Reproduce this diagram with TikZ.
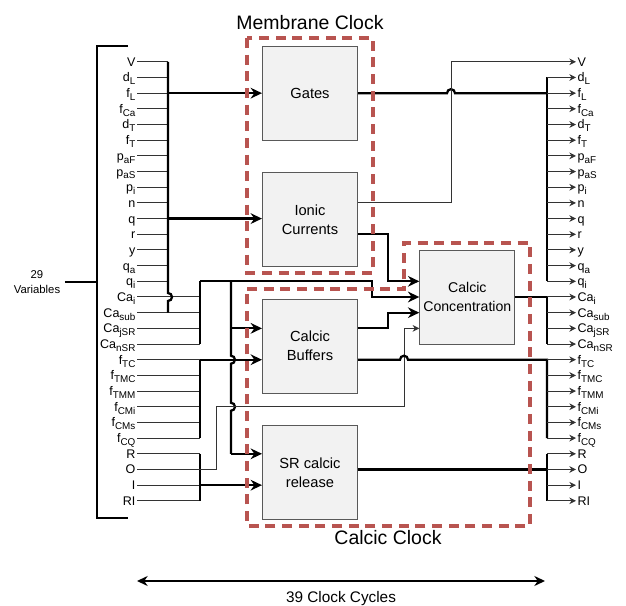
\documentclass[tikz,border=0pt]{standalone}
\usepackage{fontspec}
\setmainfont{Liberation Sans}
\usepackage{tikz}
\usetikzlibrary{positioning,calc,arrows.meta}
\definecolor{clockred}{HTML}{B85450}
\newcommand{\subtxt}[1]{\raisebox{-2.2pt}{\fontsize{7.4}{8}\selectfont #1}}

\begin{document}
\begin{tikzpicture}[x=0.75pt, y=-0.75pt,
	blockbox/.style={draw=black!65, line width=0.75pt, fill=black!5,
		rectangle, minimum width=71.25pt, minimum height=70.5pt,
		inner sep=0pt, align=center, font=\fontsize{11}{14.2}\selectfont},
	varlabel/.style={font=\fontsize{9.4}{10}\selectfont, inner xsep=1pt,
		inner ysep=0pt, text height=6.7pt, text depth=0pt},
	thinline/.style={line width=0.75pt, black!80},
	thickline/.style={line width=1.7pt},
	thinarrow/.style={thinline, -{Stealth[length=5pt, width=5pt]}},
	thickarrow/.style={thickline, -{Stealth[length=8.5pt, width=8pt]}},
	clockbox/.style={draw=clockred, line width=3pt, dash pattern=on 7.5pt off 5pt},
	clocktitle/.style={font=\fontsize{14.6}{16}\selectfont, inner sep=0pt}]

	\useasboundingbox (0,0) rectangle (626,606);

	% variables, left and right
	\foreach \vname [count=\k from 0] in {V, d\subtxt{L}, f\subtxt{L},
		f\subtxt{Ca}, d\subtxt{T}, f\subtxt{T}, p\subtxt{aF},
		p\subtxt{aS}, p\subtxt{i}, n, q, r, y, q\subtxt{a},
		q\subtxt{i}, Ca\subtxt{i}, Ca\subtxt{sub},
		Ca\subtxt{jSR}, Ca\subtxt{nSR}, f\subtxt{TC},
		f\subtxt{TMC}, f\subtxt{TMM}, f\subtxt{CMi},
		f\subtxt{CMs}, f\subtxt{CQ}, R, O, I, RI} {
		\node[varlabel, anchor=east] (l\k) at (137, {61.8+15.68*\k}) {\vname};
		\node[varlabel, anchor=west] (r\k) at (576, {61.8+15.68*\k}) {\vname};
	}

	% blocks
	\node[blockbox] (gates) at (310, 93.16) {Gates};
	\node[blockbox] (ionic) [below = 23.6pt of gates] {Ionic\\Currents};
	\node[blockbox] (buffers) [below = 23.6pt of ionic] {Calcic\\Buffers};
	\node[blockbox] (release) [below = 23.6pt of buffers] {SR calcic\\release};
	\node[blockbox, font=\fontsize{10.6}{14.2}\selectfont] (conc) at (467.3, 297.02) {Calcic\\Concentration};

	% bus positions
	\coordinate (busA) at (168,0);
	\coordinate (busB) at (200,0);
	\coordinate (busC) at (231,0);
	\coordinate (oA) at (216,0);
	\coordinate (cajn) at (372,0);
	\coordinate (jn) at (388,0);
	\coordinate (oB) at (404,0);
	\coordinate (vjn) at (451,0);
	\coordinate (busR) at (547,0);

	% bracket
	\coordinate (brk) at (97,0);
	\coordinate (brkTop) at (128,46);
	\coordinate (brkBot) at (128,518);
	\draw[line width=1.3pt] (brkTop) -- (brkTop -| brk) -- (brkBot -| brk) -- (brkBot);
	\node[font=\fontsize{8.5}{10.7}\selectfont, align=center] (vars) at (37,282) {29\\Variables};
	\draw[line width=1.3pt] (vars.east) -- (vars.east -| brk);

	% inputs
	\foreach \k in {0,...,14}
		\draw[thinline] (l\k.east) -- (l\k.east -| busA);
	\foreach \k in {15,...,25,27,28}
		\draw[thinline] (l\k.east) -- (l\k.east -| busB);
	\draw[thickline] (l0.east -| busA) -- ($(l15.east -| busA)+(0,-4)$)
		arc[start angle=90, end angle=-90, radius=3pt] -- (l16.east -| busA);
	\draw[thickline] (l14.east -| busB) -- (l18.east -| busB);
	\draw[thickline] (l19.east -| busB) -- (l24.east -| busB);
	\draw[thickline] (l25.east -| busB) -- (l28.east -| busB);
	\draw[thickline] (l14.east -| busC) -- ($(l19.east -| busC)+(0,-4)$)
		arc[start angle=90, end angle=-90, radius=3pt] -- ($(l22.east -| busC)+(0,-4)$)
		arc[start angle=90, end angle=-90, radius=3pt] -- (l25.east -| busC);

	\draw[thickarrow] (l2.east -| busA) -- (gates.west |- l2.east);
	\draw[thickarrow] (l10.east -| busA) -- (ionic.west |- l10.east);
	\draw[thickarrow] (l17.east -| busC) -- (buffers.west |- l17.east);
	\draw[thickarrow] (l19.east -| busB) -- (buffers.west |- l19.east);
	\draw[thickarrow] (l25.east -| busC) -- (release.west |- l25.east);
	\draw[thickarrow] (l27.east -| busB) -- (release.west |- l27.east);

	\draw[thickarrow] (ionic.east |- l11.east) -- (l11.east -| jn) -- (l14.east -| jn) -- (conc.west |- l14.east);
	\draw[thickarrow] (l14.east -| busB) -- (l14.east -| cajn) -- (l15.east -| cajn) -- (conc.west |- l15.east);
	\draw[thickarrow] (buffers.east |- l17.east) -- (l17.east -| jn) -- (l16.east -| jn) -- (conc.west |- l16.east);
	\draw[thinarrow] (l26.east) -- (l26.east -| oA) -- (l22.east -| oA) -- (l22.east -| oB)
		-- (l17.east -| oB) -- (conc.west |- l17.east);

	% outputs
	\draw[thickline] (gates.east |- r2.west) -- ($(r2.west -| vjn)+(-4,0)$)
		arc[start angle=180, end angle=0, radius=3pt] -- (r2.west -| busR);
	\draw[thinarrow] (ionic.east |- r9.west) -- (r9.west -| vjn) -- (r0.west -| vjn) -- (r0.west);
	\draw[thickline] (r1.west -| busR) -- (r14.west -| busR);
	\draw[thickline] (conc.east |- r15.west) -- (r15.west -| busR) -- (r18.west -| busR);
	\draw[thickline] (buffers.east |- r19.west) -- ($(r19.west -| oB)+(-4,0)$)
		arc[start angle=180, end angle=0, radius=3pt] -- (r19.west -| busR) -- (r24.west -| busR);
	\draw[thickline] (release.east |- r26.west) -- (r26.west -| busR);
	\draw[thickline] (r25.west -| busR) -- (r28.west -| busR);
	\foreach \k in {1,...,28}
		\draw[thinarrow] (r\k.west -| busR) -- (r\k.west);

	% clock domains
	\draw[clockbox] (247,38) rectangle (373,273);
	\draw[clockbox] (247,289) -- (404,289) -- (404,243) -- (530,243) -- (530,526) -- (247,526) -- cycle;
	\node[clocktitle, anchor=base] (memtitle) at (310,30) {Membrane Clock};
	\node[clocktitle, anchor=base] (caltitle) at (388,545) {Calcic Clock};

	% cycles
	\coordinate (cycL) at (137,581);
	\coordinate (cycR) at (545,581);
	\draw[line width=1.7pt, {Stealth[length=8pt, width=7.5pt]}-{Stealth[length=8pt, width=7.5pt]}] (cycL) -- (cycR);
	\node[font=\fontsize{11.5}{14}\selectfont, anchor=base] (cycles) at (341,603) {39 Clock Cycles};

\end{tikzpicture}
\end{document}
